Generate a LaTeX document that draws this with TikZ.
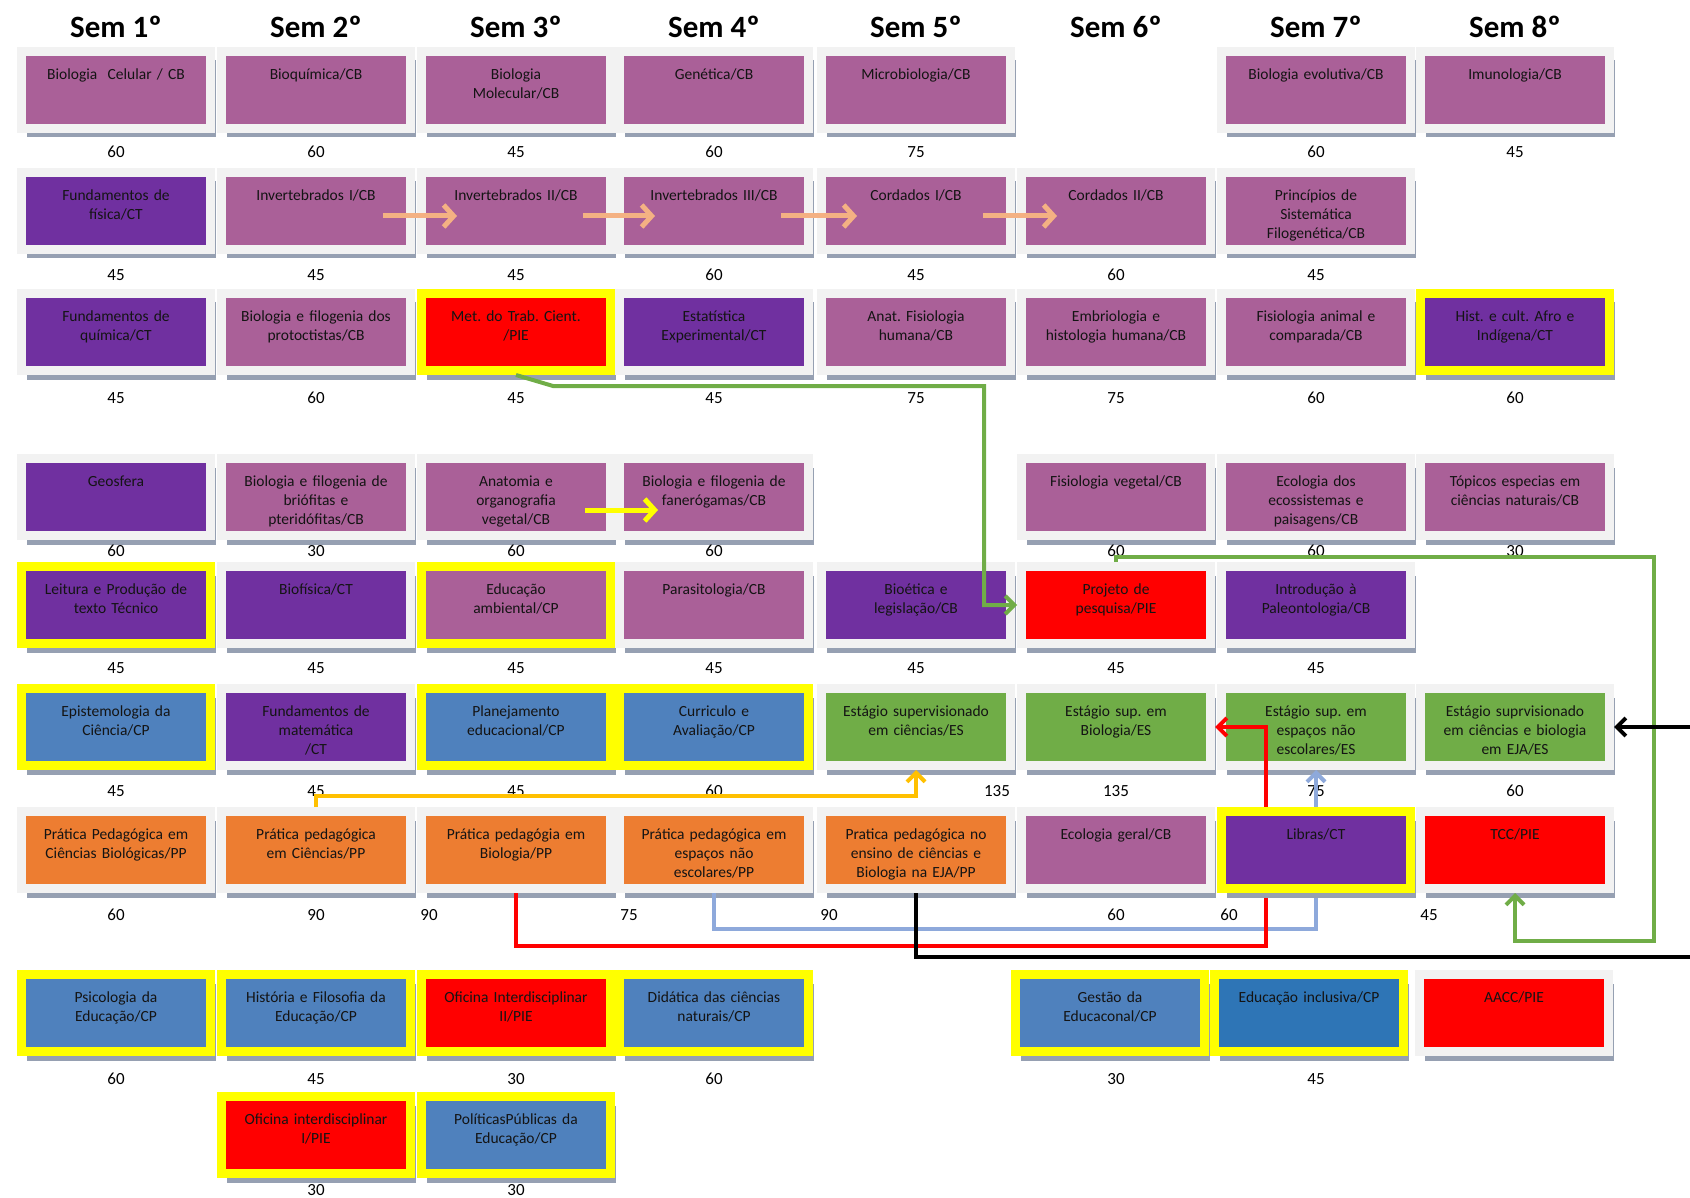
\documentclass[tikz,border=0pt]{standalone}
\usepackage{fontspec}
\setmainfont{Carlito}
\usepackage{tikz}
\usetikzlibrary{shadows,arrows.meta}
\frenchspacing

\definecolor{mauve}{RGB}{170,96,152}
\definecolor{roxo}{RGB}{112,48,160}
\definecolor{azul}{RGB}{79,129,189}
\definecolor{azulesc}{RGB}{46,117,182}
\definecolor{verde}{RGB}{112,173,71}
\definecolor{laranja}{RGB}{237,125,49}
\definecolor{vermelho}{RGB}{255,0,0}
\definecolor{amarelo}{RGB}{255,255,0}
\definecolor{moldura}{RGB}{242,242,242}
\definecolor{sombra}{RGB}{150,160,178}
\definecolor{pessego}{RGB}{244,177,131}
\definecolor{azulclaro}{RGB}{142,169,219}
\definecolor{ouro}{RGB}{255,192,0}
\definecolor{texto}{RGB}{20,20,20}

\newcommand{\boxfont}{\fontsize{15.5}{19}\selectfont}
\newcommand{\numfont}{\fontsize{17}{20}\selectfont}
\newcommand{\semfont}{\fontsize{31}{36}\selectfont\bfseries}

\tikzset{
  course/.style={rectangle, inner sep=0pt, minimum width=189pt, text width=178pt, align=center,
    text height=28pt, text depth=49pt, line width=9pt, draw=moldura, text=texto, font=\boxfont,
    drop shadow={shadow xshift=5pt, shadow yshift=-9pt, opacity=1, fill=sombra}},
  hl/.style={draw=amarelo},
  hours/.style={inner sep=0pt, font=\numfont},
  semhead/.style={inner sep=0pt, font=\semfont},
  link/.style={line width=4pt, -{Straight Barb[length=9pt,width=18pt]}},
  seq/.style={line width=5pt, -{Straight Barb[length=10pt,width=22pt]}},
}

\begin{document}
\begin{tikzpicture}[x=1pt,y=-1pt]%
\path [use as bounding box] (0,0) rectangle (1690,1198);%
\clip (0,0) rectangle (1690,1198);%
% semestres
\node [semhead] (sem1) at (116,27) {Sem 1º};%
\node [semhead] (sem2) at (316,27) {Sem 2º};%
\node [semhead] (sem3) at (516,27) {Sem 3º};%
\node [semhead] (sem4) at (714,27) {Sem 4º};%
\node [semhead] (sem5) at (916,27) {Sem 5º};%
\node [semhead] (sem6) at (1116,27) {Sem 6º};%
\node [semhead] (sem7) at (1316,27) {Sem 7º};%
\node [semhead] (sem8) at (1515,27) {Sem 8º};%
% linha 1
\node [course, fill=mauve] (bioCel) at (116,90) {Biologia~ Celular / CB};%
\node [course, fill=mauve] (bioQuim) at (316,90) {Bioquímica/CB};%
\node [course, fill=mauve] (bioMol) at (516,90) {Biologia\\ Molecular/CB};%
\node [course, fill=mauve] (genet) at (714,90) {Genética/CB};%
\node [course, fill=mauve] (micro) at (916,90) {Microbiologia/CB};%
\node [course, fill=mauve] (bioEvo) at (1316,90) {Biologia evolutiva/CB};%
\node [course, fill=mauve] (imuno) at (1515,90) {Imunologia/CB};%
\node [hours] (hbioCel) at (116,152) {60};%
\node [hours] (hbioQuim) at (316,152) {60};%
\node [hours] (hbioMol) at (516,152) {45};%
\node [hours] (hgenet) at (714,152) {60};%
\node [hours] (hmicro) at (916,152) {75};%
\node [hours] (hbioEvo) at (1316,152) {60};%
\node [hours] (himuno) at (1515,152) {45};%
% linha 2
\node [course, fill=roxo] (fisica) at (116,211) {Fundamentos de\\ física/CT};%
\node [course, fill=mauve] (inv1) at (316,211) {Invertebrados I/CB};%
\node [course, fill=mauve] (inv2) at (516,211) {Invertebrados II/CB};%
\node [course, fill=mauve] (inv3) at (714,211) {Invertebrados III/CB};%
\node [course, fill=mauve] (cord1) at (916,211) {Cordados I/CB};%
\node [course, fill=mauve] (cord2) at (1116,211) {Cordados II/CB};%
\node [course, fill=mauve] (sistem) at (1316,211) {Princípios de\\ Sistemática\\ Filogenética/CB};%
\node [hours] (hfisica) at (116,275) {45};%
\node [hours] (hinv1) at (316,275) {45};%
\node [hours] (hinv2) at (516,275) {45};%
\node [hours] (hinv3) at (714,275) {60};%
\node [hours] (hcord1) at (916,275) {45};%
\node [hours] (hcord2) at (1116,275) {60};%
\node [hours] (hsistem) at (1316,275) {45};%
% linha 3
\node [course, fill=roxo] (quimica) at (116,332) {Fundamentos de\\ química/CT};%
\node [course, fill=mauve] (protoc) at (316,332) {Biologia e filogenia dos\\ protoctistas/CB};%
\node [course, hl, fill=vermelho] (metTrab) at (516,332) {Met. do Trab. Cient.\\ /PIE};%
\node [course, fill=roxo] (estat) at (714,332) {Estatística\\ Experimental/CT};%
\node [course, fill=mauve] (anatHum) at (916,332) {Anat. Fisiologia\\ humana/CB};%
\node [course, fill=mauve] (embrio) at (1116,332) {Embriologia e\\ histologia humana/CB};%
\node [course, fill=mauve] (fisAnim) at (1316,332) {Fisiologia animal e\\ comparada/CB};%
\node [course, hl, fill=roxo] (afro) at (1515,332) {Hist. e cult. Afro e\\ Indígena/CT};%
\node [hours] (hquimica) at (116,398) {45};%
\node [hours] (hprotoc) at (316,398) {60};%
\node [hours] (hmetTrab) at (516,398) {45};%
\node [hours] (hestat) at (714,398) {45};%
\node [hours] (hanatHum) at (916,398) {75};%
\node [hours] (hembrio) at (1116,398) {75};%
\node [hours] (hfisAnim) at (1316,398) {60};%
\node [hours] (hafro) at (1515,398) {60};%
% linha 4
\node [course, fill=roxo] (geosf) at (116,497) {Geosfera};%
\node [course, fill=mauve] (briof) at (316,497) {Biologia e filogenia de\\ briófitas e\\ pteridófitas/CB};%
\node [course, fill=mauve] (anatVeg) at (516,497) {Anatomia e\\ organografia\\ vegetal/CB};%
\node [course, fill=mauve] (faner) at (714,497) {Biologia e filogenia de\\ fanerógamas/CB};%
\node [course, fill=mauve] (fisVeg) at (1116,497) {Fisiologia vegetal/CB};%
\node [course, fill=mauve] (ecoss) at (1316,497) {Ecologia dos\\ ecossistemas e\\ paisagens/CB};%
\node [course, fill=mauve] (topicos) at (1515,497) {Tópicos especias em\\ ciências naturais/CB};%
\node [hours] (hgeosf) at (116,551) {60};%
\node [hours] (hbriof) at (316,551) {30};%
\node [hours] (hanatVeg) at (516,551) {60};%
\node [hours] (hfaner) at (714,551) {60};%
\node [hours] (hfisVeg) at (1116,551) {60};%
\node [hours] (hecoss) at (1316,551) {60};%
\node [hours] (htopicos) at (1515,551) {30};%
% linha 5
\node [course, hl, fill=roxo] (leitura) at (116,605) {Leitura e Produção de\\ texto Técnico};%
\node [course, fill=roxo] (biofis) at (316,605) {Biofísica/CT};%
\node [course, hl, fill=mauve] (eduAmb) at (516,605) {Educação\\ ambiental/CP};%
\node [course, fill=mauve] (parasit) at (714,605) {Parasitologia/CB};%
\node [course, fill=roxo] (bioet) at (916,605) {Bioética e\\ legislação/CB};%
\node [course, fill=vermelho] (projeto) at (1116,605) {Projeto de\\ pesquisa/PIE};%
\node [course, fill=roxo] (paleo) at (1316,605) {Introdução à\\ Paleontologia/CB};%
\node [hours] (hleitura) at (116,668) {45};%
\node [hours] (hbiofis) at (316,668) {45};%
\node [hours] (heduAmb) at (516,668) {45};%
\node [hours] (hparasit) at (714,668) {45};%
\node [hours] (hbioet) at (916,668) {45};%
\node [hours] (hprojeto) at (1116,668) {45};%
\node [hours] (hpaleo) at (1316,668) {45};%
% linha 7 (antes da 6)
\node [course, fill=laranja] (ppCB) at (116,850) {Prática Pedagógica em\\ Ciências Biológicas/PP};%
\node [course, fill=laranja] (ppCien) at (316,850) {Prática pedagógica\\ em Ciências/PP};%
\node [course, fill=laranja] (ppBio) at (516,850) {Prática pedagógia em\\ Biologia/PP};%
\node [course, fill=laranja] (ppEsp) at (714,850) {Prática pedagógica em\\ espaços não\\ escolares/PP};%
\node [course, fill=laranja] (ppEJA) at (916,850) {Pratica pedagógica no\\ ensino de ciências e\\ Biologia na EJA/PP};%
\node [course, fill=mauve] (ecoGer) at (1116,850) {Ecologia geral/CB};%
\node [hours] (hppCB) at (116,915) {60};%
\node [hours] (hppCien) at (316,915) {90};%
\node [hours] (hppBio) at (429,915) {90};%
\node [hours] (hppEsp) at (629,915) {75};%
\node [hours] (hppEJA) at (829,915) {90};%
\node [hours] (hecoGer) at (1116,915) {60};%
\node [hours] (hlibras) at (1229,915) {60};%
\node [hours] (htcc) at (1429,915) {45};%
% linha 6
\node [course, hl, fill=azul] (epist) at (116,727) {Epistemologia da\\ Ciência/CP};%
\node [course, fill=roxo] (fundMat) at (316,727) {Fundamentos de\\ matemática\\ /CT};%
\node [course, hl, fill=azul] (planej) at (516,727) {Planejamento\\ educacional/CP};%
\node [course, hl, fill=azul] (curric) at (714,727) {Curriculo e\\ Avaliação/CP};%
\node [course, fill=verde] (estCien) at (916,727) {Estágio supervisionado\\ em ciências/ES};%
\node [course, fill=verde] (estBio) at (1116,727) {Estágio sup. em\\ Biologia/ES};%
\node [course, fill=verde] (estEsp) at (1316,727) {Estágio sup. em\\ espaços não\\ escolares/ES};%
\node [course, fill=verde] (estEJA) at (1515,727) {Estágio suprvisionado\\ em ciências e biologia\\ em EJA/ES};%
\node [hours] (hepist) at (116,791) {45};%
\node [hours] (hfundMat) at (316,791) {45};%
\node [hours] (hplanej) at (516,791) {45};%
\node [hours] (hcurric) at (714,791) {60};%
\node [hours] (hestCien) at (997,791) {135};%
\node [hours] (hestBio) at (1116,791) {135};%
\node [hours] (hestEsp) at (1316,791) {75};%
\node [hours] (hestEJA) at (1515,791) {60};%
% linha 8
\node [course, hl, fill=azul] (psico) at (116,1013) {Psicologia da\\ Educação/CP};%
\node [course, hl, fill=azul] (histFil) at (316,1013) {História e Filosofia da\\ Educação/CP};%
\node [course, hl, fill=vermelho] (ofic2) at (516,1013) {Oficina Interdisciplinar\\ II/PIE};%
\node [course, hl, fill=azul] (didat) at (714,1013) {Didática das ciências\\ naturais/CP};%
\node [course, hl, fill=azul] (gestao) at (1110,1013) {Gestão da\\ Educaconal/CP};%
\node [course, hl, fill=azulesc] (eduInc) at (1309,1013) {Educação inclusiva/CP};%
\node [course, fill=vermelho] (aacc) at (1514,1013) {AACC/PIE};%
\node [hours] (hpsico) at (116,1079) {60};%
\node [hours] (hhistFil) at (316,1079) {45};%
\node [hours] (hofic2) at (516,1079) {30};%
\node [hours] (hdidat) at (714,1079) {60};%
\node [hours] (hgestao) at (1116,1079) {30};%
\node [hours] (heduInc) at (1316,1079) {45};%
% linha 9
\node [course, hl, fill=vermelho] (ofic1) at (316,1135) {Oficina interdisciplinar\\ I/PIE};%
\node [course, hl, fill=azul] (polit) at (516,1135) {PolíticasPúblicas da\\ Educação/CP};%
\node [hours] (hofic1) at (316,1190) {30};%
\node [hours] (hpolit) at (516,1190) {30};%
% ligacoes por baixo de Libras
\coordinate (bC) at (1316,929);%
\coordinate (rC) at (1266,946);%
\draw [link, azulclaro] (ppEsp.south) |- (bC) -- (estEsp.south);%
\draw [link, vermelho] (ppBio.south) |- (rC) |- (estBio.east);%
\node [course, hl, fill=roxo] (libras) at (1316,850) {Libras/CT};%
\node [course, fill=vermelho] (tcc) at (1515,850) {TCC/PIE};%
% ligacoes
\coordinate (gA) at (553,386);%
\coordinate (gB) at (984,386);%
\coordinate (gC) at (1654,941);%
\coordinate (kA) at (1700,957);%
\draw [link, verde] (metTrab.south) -- (gA) -- (gB) |- (projeto.west);%
\draw [link, verde] (projeto.north) -- ++(0,-5) -| (gC) -| (tcc.south);%
\draw [link, ouro] (ppCien.north) -- ++(0,-11) -| (estCien.south);%
\draw [link, black] (ppEJA.south) |- (kA) |- (estEJA.east);%
% sequencias
\draw [seq, pessego] ([xshift=-32pt,yshift=-5pt]inv1.east) -- ([xshift=40pt,yshift=-5pt]inv2.west);%
\draw [seq, pessego] ([xshift=-32pt,yshift=-5pt]inv2.east) -- ([xshift=40pt,yshift=-5pt]inv3.west);%
\draw [seq, pessego] ([xshift=-32pt,yshift=-5pt]inv3.east) -- ([xshift=40pt,yshift=-5pt]cord1.west);%
\draw [seq, pessego] ([xshift=-32pt,yshift=-5pt]cord1.east) -- ([xshift=40pt,yshift=-5pt]cord2.west);%
\draw [seq, amarelo] ([xshift=-30pt,yshift=-13pt]anatVeg.east) -- ([xshift=43pt,yshift=-13pt]faner.west);%
\end{tikzpicture}
\end{document}
